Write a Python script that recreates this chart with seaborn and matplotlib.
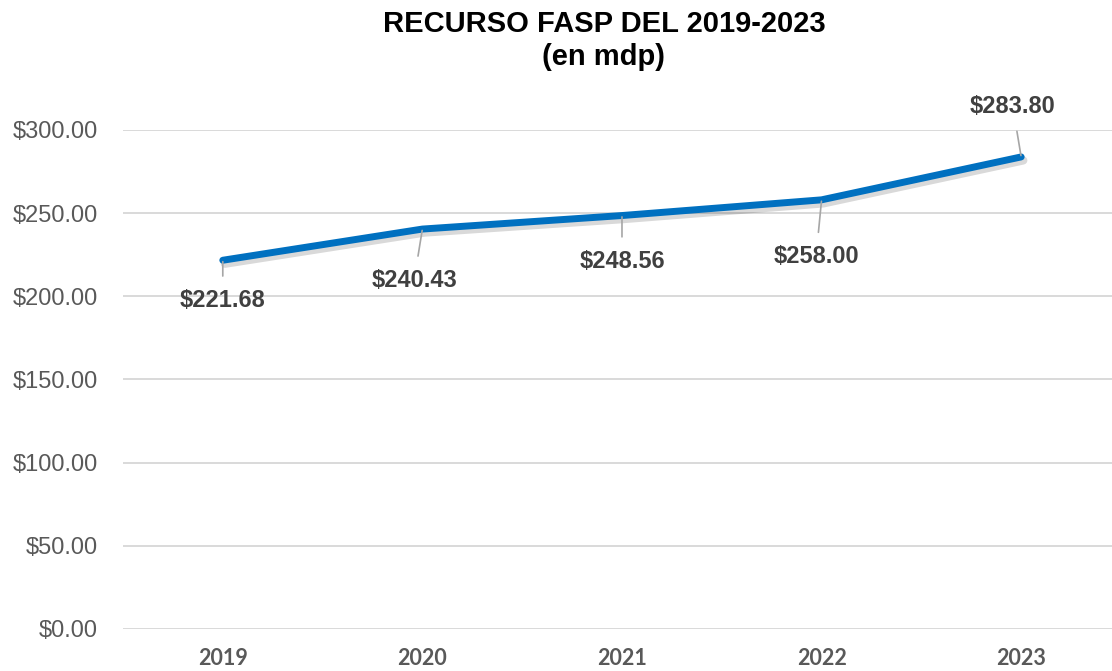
import matplotlib
matplotlib.use("Agg")
import matplotlib.pyplot as plt
import matplotlib.patheffects as pe
import pandas as pd
import seaborn as sns

# datos del recurso FASP (millones de pesos)
years = ["2019", "2020", "2021", "2022", "2023"]
values = [221.68, 240.43, 248.56, 258.00, 283.80]
value_labels = ["$221.68", "$240.43", "$248.56", "$258.00", "$283.80"]
y_ticks = [0, 50, 100, 150, 200, 250, 300]

df = pd.DataFrame({"anio": years, "monto": values})

sns.set_theme(style="white")
plt.rcParams["font.family"] = ["Liberation Sans", "DejaVu Sans"]

fig = plt.figure(figsize=(11.12, 6.71), dpi=100)
ax = fig.add_axes([0.1106, 0.0626, 0.8894, 0.7437])

sns.lineplot(data=df, x="anio", y="monto", ax=ax, color="#0070C0", linewidth=5,
             solid_capstyle="round", solid_joinstyle="round", sort=False,
             path_effects=[pe.SimpleLineShadow(offset=(1.5, -2.5), alpha=0.15, shadow_color="black",
                                               linewidth=6),
                           pe.Normal()])

ax.set_ylim(0, 300)
ax.set_xlim(-0.5, 4.455)
ax.set_yticks(y_ticks)
ax.set_yticklabels([f"${v:.2f}" for v in y_ticks], color="#595959", fontsize=17)
ax.yaxis.grid(True, color="#D9D9D9", linewidth=1.4)
ax.set_axisbelow(True)
for s in ax.spines.values():
    s.set_visible(False)
ax.tick_params(axis="y", length=0, pad=18)
ax.tick_params(axis="x", length=0, pad=14)
for lbl in ax.get_xticklabels():
    lbl.set_fontfamily(["Lato", "DejaVu Sans"])
    lbl.set_fontweight("bold")
    lbl.set_fontsize(15.5)
    lbl.set_color("#595959")
ax.set_xlabel("")
ax.set_ylabel("")

# desplazamiento de las etiquetas (puntos)
offsets = [(0, -29), (-6, -37), (0, -33), (-4, -41), (-6, 36)]
for i, (v, t) in enumerate(zip(values, value_labels)):
    dx, dy = offsets[i]
    ax.annotate(t, xy=(i, v), xytext=(dx, dy), textcoords="offset points",
                ha="center", va="center", fontsize=17, fontweight="bold",
                color="#404040", annotation_clip=False,
                arrowprops=dict(arrowstyle="-", color="#A6A6A6", lw=1.2,
                                shrinkA=7, shrinkB=1))

fig.text(0.543, 0.985, "RECURSO FASP DEL 2019-2023\n(en mdp)", ha="center", va="top",
         fontsize=21, fontweight="bold", color="black", linespacing=1.22)

fig.savefig("out.png", dpi=100)
